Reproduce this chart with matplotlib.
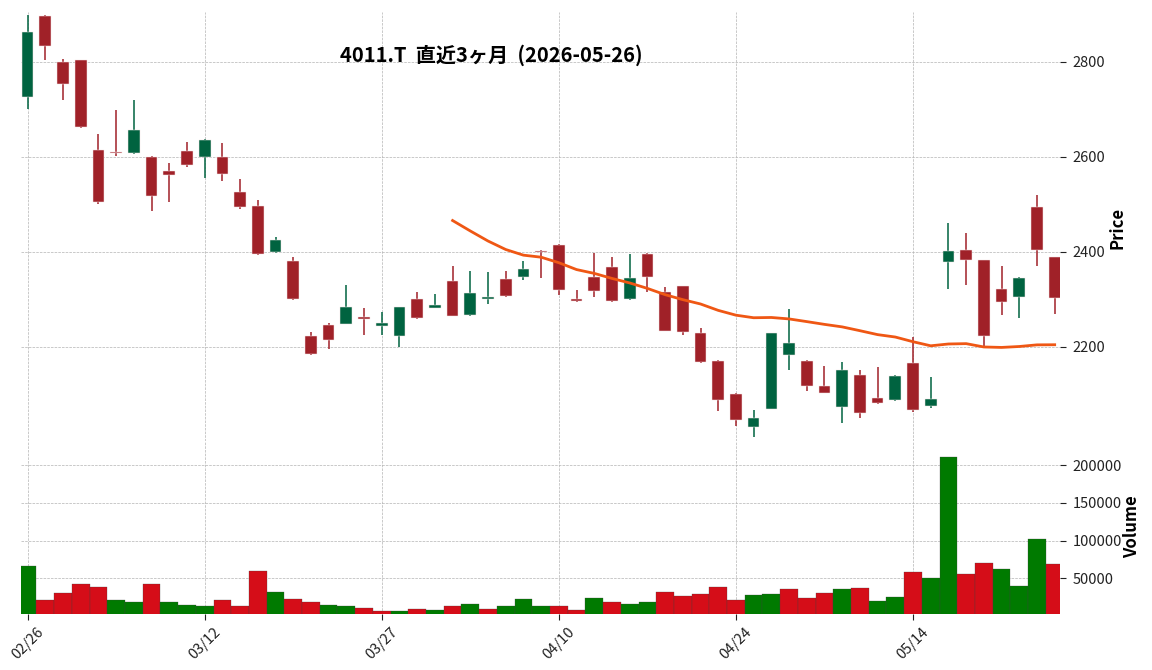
import numpy as np
import matplotlib
matplotlib.use("Agg")
import matplotlib.pyplot as plt
from matplotlib.ticker import MultipleLocator, FixedLocator, FuncFormatter

plt.rcParams['font.family'] = ['Noto Sans CJK JP', 'DejaVu Sans']

# ---------------- data ----------------
dates = ["02/26", "02/27", "03/02", "03/03", "03/04", "03/05", "03/06", "03/09", "03/10", "03/11",
         "03/12", "03/13", "03/16", "03/17", "03/18", "03/19", "03/23", "03/24", "03/25", "03/26",
         "03/27", "03/30", "03/31", "04/01", "04/02", "04/03", "04/06", "04/07", "04/08", "04/09",
         "04/10", "04/13", "04/14", "04/15", "04/16", "04/17", "04/20", "04/21", "04/22", "04/23",
         "04/24", "04/27", "04/28", "04/30", "05/01", "05/07", "05/08", "05/11", "05/12", "05/13",
         "05/14", "05/15", "05/18", "05/19", "05/20", "05/21", "05/22", "05/25", "05/26"]

opens = [2727, 2897, 2800, 2804, 2615, 2611, 2609, 2600, 2571, 2613,
         2599, 2600, 2526, 2497, 2399, 2381, 2223, 2246, 2249, 2262,
         2245, 2222, 2301, 2283, 2339, 2267, 2301, 2342, 2348, 2401,
         2415, 2301, 2347, 2368, 2300, 2396, 2316, 2328, 2229, 2171,
         2101, 2032, 2070, 2182, 2171, 2118, 2074, 2141, 2093, 2088,
         2166, 2076, 2378, 2404, 2383, 2321, 2306, 2495, 2389]
highs = [2899, 2899, 2806, 2805, 2648, 2699, 2720, 2601, 2587, 2631,
         2637, 2629, 2553, 2509, 2431, 2390, 2231, 2250, 2330, 2281,
         2274, 2285, 2315, 2311, 2371, 2360, 2357, 2360, 2381, 2403,
         2416, 2319, 2397, 2389, 2396, 2397, 2327, 2329, 2239, 2172,
         2102, 2067, 2230, 2279, 2172, 2159, 2168, 2151, 2157, 2140,
         2220, 2137, 2460, 2439, 2384, 2371, 2348, 2520, 2390]
lows = [2701, 2804, 2720, 2661, 2501, 2602, 2607, 2486, 2505, 2579,
        2555, 2549, 2490, 2394, 2398, 2299, 2183, 2195, 2248, 2225,
        2225, 2199, 2259, 2282, 2265, 2266, 2291, 2305, 2341, 2345,
        2309, 2295, 2305, 2295, 2299, 2315, 2233, 2225, 2166, 2065,
        2033, 2010, 2069, 2151, 2107, 2102, 2039, 2050, 2079, 2087,
        2063, 2071, 2322, 2330, 2203, 2267, 2260, 2371, 2269]
closes = [2863, 2834, 2754, 2662, 2506, 2609, 2657, 2518, 2561, 2582,
          2636, 2563, 2495, 2396, 2425, 2300, 2186, 2215, 2284, 2258,
          2250, 2284, 2260, 2288, 2266, 2314, 2305, 2307, 2364, 2399,
          2319, 2296, 2317, 2296, 2345, 2348, 2234, 2232, 2168, 2089,
          2047, 2051, 2229, 2208, 2117, 2104, 2152, 2060, 2081, 2139,
          2067, 2091, 2402, 2382, 2224, 2295, 2345, 2403, 2302]
volumes = [66400, 21200, 30500, 42500, 38500, 21200, 18600, 42500, 18600, 14600,
           13300, 21200, 13300, 59700, 31900, 22600, 18600, 14600, 13300, 10600,
           6600, 6600, 9300, 8000, 13300, 15900, 9300, 13300, 22600, 13300,
           13300, 8000, 23900, 18600, 15900, 18600, 31900, 26500, 29200, 38500,
           21200, 27900, 29200, 35800, 23900, 30500, 35800, 37200, 19900, 25200,
           58400, 50400, 211000, 55800, 70400, 62400, 39800, 102200, 69000]

ma_period = 25
title = "4011.T  直近3ヶ月  (2026-05-26)"

# ---------------- styles ----------------
UP, DOWN = '#006340', '#a02128'
VUP, VDOWN = '#007a00', '#d50d18'
MA_COLOR = '#ef5714'
GRID = dict(color='#b4b4b4', linestyle='--', linewidth=0.5)

o = np.array(opens, float); h = np.array(highs, float)
l = np.array(lows, float); c = np.array(closes, float)
v = np.array(volumes, float)
x = np.arange(len(c))

W, H = 1152, 670
fig = plt.figure(figsize=(W / 100, H / 100), dpi=100)
L, R = 20.5 / W, 1060 / W
ax = fig.add_axes([L, 1 - 441 / H, R - L, (441 - 12) / H])
axv = fig.add_axes([L, 1 - 613.5 / H, R - L, (613.5 - 441) / H], sharex=ax)

# candles
up = c >= o
ccol = np.where(up, UP, DOWN)
ax.vlines(x, l, h, colors=ccol, linewidth=1.1, zorder=2)
body_bot = np.minimum(o, c)
body_h = np.maximum(np.abs(c - o), 1.5)
ax.bar(x, body_h, bottom=body_bot, width=0.66, color=ccol, edgecolor='#f3e6e6',
       linewidth=0.35, zorder=3)

# moving average
ma = np.convolve(c, np.ones(ma_period) / ma_period, mode='valid')
ax.plot(x[ma_period - 1:], ma, color=MA_COLOR, linewidth=2.0, zorder=4)

# volume, coloured by close vs previous close
prev = np.concatenate([[c[0]], c[:-1]])
vcol = np.where(c >= prev, VUP, VDOWN)
axv.bar(x, v, width=1.0, color=vcol, edgecolor='#404040', linewidth=0.2, zorder=3)

# axes limits
ax.set_xlim(-0.4, 58.3)
ax.set_ylim(2002, 2905)
axv.set_ylim(3500, v.max() * 1.1)

for a in (ax, axv):
    for s in a.spines.values():
        s.set_visible(False)
    a.grid(True, **GRID)
    a.set_axisbelow(True)
    a.yaxis.tick_right()
    a.tick_params(axis='y', which='both', direction='out', length=4, width=0.8,
                  colors='#222222', labelsize=10.5, pad=5)

ax.yaxis.set_major_locator(MultipleLocator(200))
axv.yaxis.set_major_locator(MultipleLocator(50000))
axv.yaxis.set_major_formatter(FuncFormatter(lambda val, pos: f"{int(val)}"))

tick_idx = [0, 10, 20, 30, 40, 50]
axv.xaxis.set_major_locator(FixedLocator(tick_idx))
axv.set_xticklabels([dates[i] for i in tick_idx])
axv.tick_params(axis='x', length=4, width=0.8, colors='#222222', labelsize=10.5,
                labelrotation=45, pad=4)
ax.tick_params(axis='x', length=0, labelbottom=False)

fig.text(1117 / W, 1 - 228 / H, "Price", rotation=90, ha='center', va='center',
         fontsize=12, fontweight='bold')
fig.text(1132 / W, 1 - 527 / H, "Volume", rotation=90, ha='center', va='center',
         fontsize=12, fontweight='bold')
fig.text(491 / W, 1 - 55 / H, title, ha='center', va='center', fontsize=14.5,
         fontweight='bold')

fig.savefig('out.png', dpi=100)
